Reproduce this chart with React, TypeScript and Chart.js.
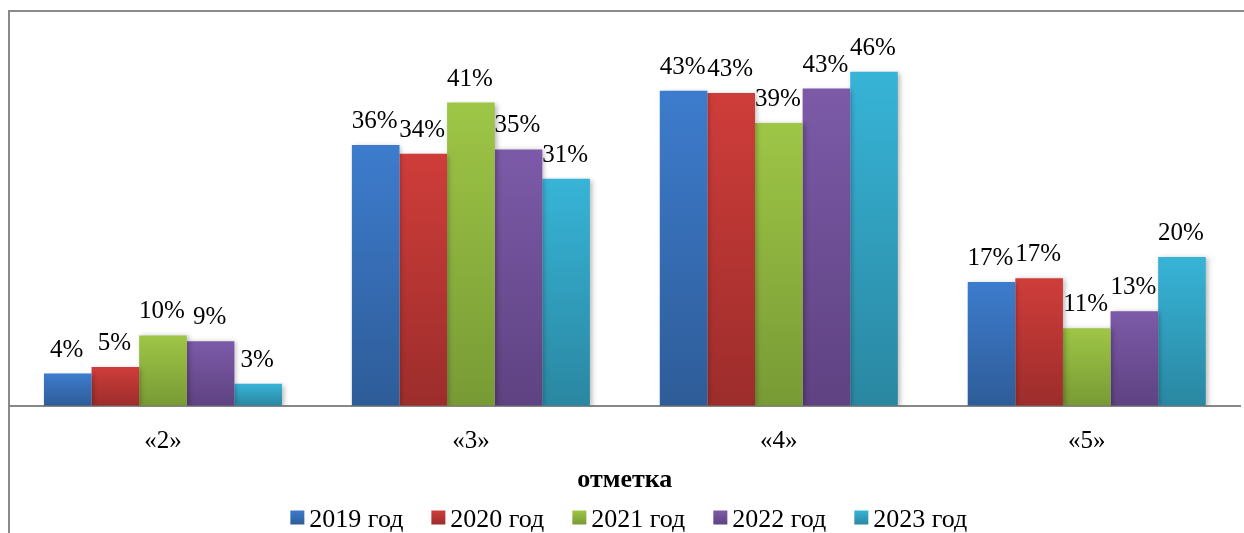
import { useEffect, useRef } from "react";
import { Chart, registerables } from "chart.js";

Chart.register(...registerables);

const categories = ["«2»", "«3»", "«4»", "«5»"];
const seriesNames = ["2019 год", "2020 год", "2021 год", "2022 год", "2023 год"];
const values2019 = [4.4, 35.6, 43.0, 16.9];
const values2020 = [5.3, 34.4, 42.7, 17.4];
const values2021 = [9.6, 41.4, 38.6, 10.6];
const values2022 = [8.8, 35.0, 43.3, 12.9];
const values2023 = [3.0, 31.0, 45.6, 20.3];
const seriesValues = [values2019, values2020, values2021, values2022, values2023];
const topColors = ["#3D7CCD", "#CF3D3A", "#9EC646", "#7C5AA8", "#37B4D7"];
const bottomColors = ["#2E5C98", "#9C2D2B", "#789A35", "#5E4281", "#2A87A1"];
const axisTitle = "отметка";

const FONT = '"Liberation Serif", "Times New Roman", serif';
const TEXT = "#000";

function gradientFor(i: number) {
  return (ctx: any) => {
    const chart = ctx.chart;
    if (!chart.chartArea || ctx.type !== "data" || !ctx.parsed) return topColors[i];
    const ys = chart.scales.y;
    const top = ys.getPixelForValue(ctx.parsed.y);
    const base = ys.getPixelForValue(0);
    if (!isFinite(top) || !isFinite(base) || top === base) return topColors[i];
    const g = chart.ctx.createLinearGradient(0, top, 0, base);
    g.addColorStop(0, topColors[i]);
    g.addColorStop(1, bottomColors[i]);
    return g;
  };
}

const decorPlugin = {
  id: "decor",
  beforeDraw(chart: any) {
    const c = chart.ctx;
    c.save();
    c.strokeStyle = "#8A8A8A";
    c.lineWidth = 2;
    c.beginPath();
    c.moveTo(9, 10);
    c.lineTo(9, chart.height);
    c.moveTo(8, 11);
    c.lineTo(chart.width, 11);
    c.stroke();
    c.restore();
  },
  beforeDatasetsDraw(chart: any) {
    const c = chart.ctx;
    c.save();
    c.shadowColor = "rgba(0,0,0,0.28)";
    c.shadowBlur = 5;
    c.shadowOffsetX = 2;
    c.shadowOffsetY = 1;
  },
  afterDatasetsDraw(chart: any) {
    const c = chart.ctx;
    c.restore();
    c.save();
    c.font = `25px ${FONT}`;
    c.fillStyle = TEXT;
    c.textAlign = "center";
    c.textBaseline = "alphabetic";
    chart.data.datasets.forEach((ds: any, di: number) => {
      const meta = chart.getDatasetMeta(di);
      meta.data.forEach((bar: any, i: number) => {
        const v = ds.data[i];
        c.fillText(`${Math.round(v)}%`, bar.x - 1, bar.y - 17);
      });
    });
    c.restore();
  },
  afterDraw(chart: any) {
    const c = chart.ctx;
    const ca = chart.chartArea;
    c.save();
    // axis title
    c.font = `bold 26px ${FONT}`;
    c.fillStyle = TEXT;
    c.textAlign = "center";
    c.textBaseline = "alphabetic";
    c.fillText(axisTitle, (ca.left + ca.right) / 2, ca.bottom + 81);
    // legend
    c.font = `26px ${FONT}`;
    c.textAlign = "left";
    const box = 14;
    const gap = 5;
    const itemGap = 28;
    const widths = seriesNames.map((n) => box + gap + c.measureText(n).width);
    const total = widths.reduce((a, b) => a + b, 0) + itemGap * (widths.length - 1);
    let x = (ca.left + ca.right) / 2 + 4 - total / 2;
    const baseline = chart.height - 6.5;
    seriesNames.forEach((n, i) => {
      const by = baseline - 16;
      const g = c.createLinearGradient(0, by, 0, by + box);
      g.addColorStop(0, topColors[i]);
      g.addColorStop(1, bottomColors[i]);
      c.fillStyle = g;
      c.fillRect(x, by, box, box);
      c.fillStyle = TEXT;
      c.fillText(n, x + box + gap, baseline);
      x += widths[i] + itemGap;
    });
    c.restore();
  },
};

export default function App() {
  const ref = useRef<HTMLCanvasElement | null>(null);
  useEffect(() => {
    if (!ref.current) return;
    const chart = new Chart(ref.current, {
      type: "bar",
      data: {
        labels: categories,
        datasets: seriesValues.map((vals, i) => ({
          label: seriesNames[i],
          data: vals,
          backgroundColor: gradientFor(i),
          borderWidth: 0,
          categoryPercentage: 0.773,
          barPercentage: 1,
        })),
      },
      options: {
        animation: false,
        responsive: false,
        maintainAspectRatio: false,
        layout: { padding: { top: 39.5, left: 9, right: 3.3, bottom: 55.2 } },
        plugins: {
          legend: { display: false },
          tooltip: { enabled: false },
        },
        scales: {
          x: {
            grid: { display: false, drawTicks: false },
            border: { display: true, color: "#878787", width: 2 },
            ticks: { font: { family: FONT, size: 25 }, color: TEXT, padding: 21 },
          },
          y: {
            display: false,
            min: 0,
            max: 50,
          },
        },
      },
      plugins: [decorPlugin],
    } as any);
    return () => chart.destroy();
  }, []);
  return (
    <div style={{ position: "fixed", left: 0, top: 0, width: 1244, height: 533, background: "#fff" }}>
      <canvas ref={ref} width={1244} height={533} style={{ width: 1244, height: 533, display: "block" }} />
    </div>
  );
}
